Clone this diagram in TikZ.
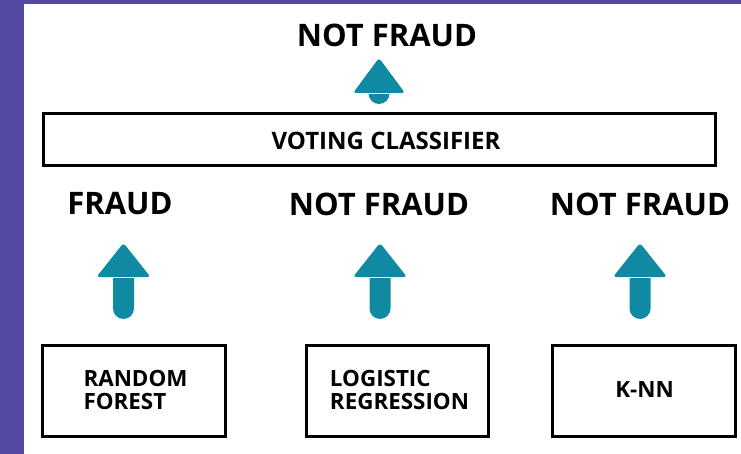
\documentclass[tikz,border=0pt]{standalone}
\usepackage{fontspec}
\setmainfont{Open Sans}
\definecolor{bandpurple}{RGB}{82,74,160}
\definecolor{arrowteal}{RGB}{16,137,163}
\tikzset{
  band/.style={fill=bandpurple, draw=none},
  modelbox/.style={draw=black, line width=3pt, fill=white},
  vote/.style={font=\fontsize{31}{31}\selectfont\bfseries, inner sep=0pt},
  boxlabel/.style={font=\fontsize{22.4}{23}\selectfont\bfseries, align=left, inner sep=0pt},
  titlelabel/.style={font=\fontsize{24}{24}\selectfont\bfseries, inner sep=0pt},
  uparrow/.style={fill=arrowteal, draw=none},
}
% upward block arrow: #1 centre x, #2 tip y, #3 head base y, #4 head half width, #5 shaft bottom y
\newcommand{\blockarrow}[5]{%
  \fill[uparrow, rounded corners=3pt] (#1,#2) -- (#1+#4,#3) -- (#1-#4,#3) -- cycle;
  \fill[uparrow] (#1-10.5,#3+1) -- (#1-10.5,#5-10.5) arc[start angle=180, end angle=0, radius=10.5] -- (#1+10.5,#3+1) -- cycle;
}
\begin{document}
\begin{tikzpicture}[x=1pt, y=-1pt]
  \useasboundingbox (0,0) rectangle (741,454);
  \fill[white] (0,0) rectangle (741,454);
  % purple frame
  \path[band] (0,0) rectangle (24,454);
  \path[band] (0,0) rectangle (741,4);

  % final decision
  \node[vote] (final) at (387,35) {NOT FRAUD};
  \blockarrow{379}{58}{93}{26}{104}

  % voting classifier
  \node[modelbox, minimum width=672pt, minimum height=52pt] (voting) at (379,140) {};
  \node[titlelabel] (votinglabel) at (386,140.5) {VOTING CLASSIFIER};

  % individual predictions
  \node[vote] (pred1) at (120,204) {FRAUD};
  \node[vote] (pred2) at (379,204) {NOT FRAUD};
  \node[vote] (pred3) at (640,204) {NOT FRAUD};

  \blockarrow{123.5}{243}{277}{27}{319}
  \blockarrow{380}{243}{277}{27}{319}
  \blockarrow{640}{243}{277}{27}{319}

  % base models
  \node[modelbox, minimum width=183pt, minimum height=91pt] (rf) at (133.5,390.5) {};
  \node[modelbox, minimum width=182pt, minimum height=91pt] (lr) at (397,390.5) {};
  \node[modelbox, minimum width=183pt, minimum height=91pt] (knn) at (643.5,390.5) {};

  \node[boxlabel] (rflabel) at (135.5,390) {RANDOM\\FOREST};
  \node[boxlabel] (lrlabel) at (399.5,390) {LOGISTIC\\REGRESSION};
  \node[boxlabel] (knnlabel) at (644.5,390) {K-NN};
\end{tikzpicture}
\end{document}
